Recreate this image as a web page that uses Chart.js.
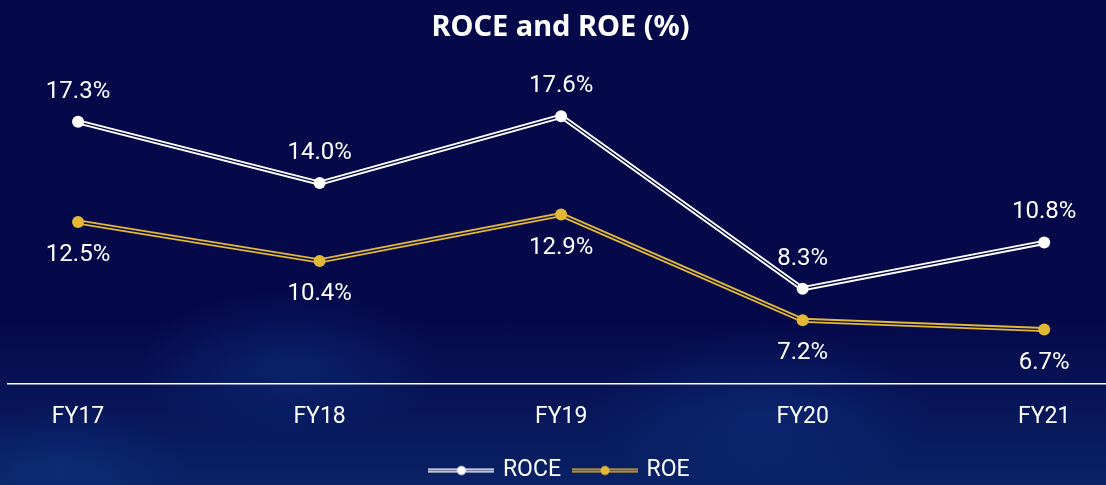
<!DOCTYPE html>
<html>
<head>
<meta charset="utf-8">
<script src="https://cdn.jsdelivr.net/npm/chart.js@4"></script>
<style>
  html, body { margin: 0; padding: 0; }
  body {
    width: 1106px; height: 485px; overflow: hidden;
    background:
      radial-gradient(ellipse 150px 75px at 290px 365px, rgba(20,70,160,0.32), rgba(20,70,160,0) 100%),
      radial-gradient(ellipse 170px 85px at 760px 415px, rgba(20,70,160,0.30), rgba(20,70,160,0) 100%),
      radial-gradient(ellipse 130px 60px at 60px 470px, rgba(20,70,160,0.30), rgba(20,70,160,0) 100%),
      linear-gradient(to bottom, #05094a 0%, #05094a 66%, #0a2266 100%);
  }
  #wrap { position: relative; width: 1106px; height: 485px; overflow: hidden; }
</style>
</head>
<body>
<div id="wrap"><canvas id="chart" width="1113" height="492"></canvas></div>
<script>
const years = ["FY17", "FY18", "FY19", "FY20", "FY21"];
const roce = [17.3, 14.0, 17.6, 8.3, 10.8];
const roe = [12.5, 10.4, 12.9, 7.2, 6.7];

const white = "#ffffff";
const gold = "#e3b834";
const navy = "#05094a";

const pts = arr => arr.map((v, i) => ({ x: i, y: v }));

// legend icon: double line with a dot
function legendIcon(color) {
  const c = document.createElement("canvas");
  c.width = 66; c.height = 12;
  const g = c.getContext("2d");
  g.strokeStyle = color; g.lineWidth = 4;
  g.beginPath(); g.moveTo(0, 6); g.lineTo(66, 6); g.stroke();
  g.strokeStyle = navy; g.lineWidth = 1.2;
  g.beginPath(); g.moveTo(0, 6); g.lineTo(66, 6); g.stroke();
  g.fillStyle = color;
  g.beginPath(); g.arc(33, 6, 4.5, 0, Math.PI * 2); g.fill();
  return c;
}

const valueLabels = {
  id: "valueLabels",
  afterDatasetsDraw(chart) {
    const ctx = chart.ctx;
    ctx.save();
    ctx.font = "24px Roboto";
    ctx.fillStyle = white;
    ctx.textAlign = "center";
    ctx.textBaseline = "middle";
    [[0, roce, -30], [1, roe, 33]].forEach(([idx, arr, off]) => {
      chart.getDatasetMeta(idx).data.forEach((p, i) => {
        ctx.fillText(arr[i].toFixed(1) + "%", p.x, p.y + off);
      });
    });
    ctx.restore();
  }
};

const lineSet = (data, color, width, axis) => ({
  data: pts(data), yAxisID: axis, borderColor: color, borderWidth: width,
  pointRadius: 0, pointHoverRadius: 0, fill: false, tension: 0
});
const dotSet = (label, data, color, axis) => ({
  label, data: pts(data), yAxisID: axis, showLine: false,
  pointRadius: 6, pointBackgroundColor: color, pointBorderWidth: 0, borderColor: color
});

new Chart(document.getElementById("chart"), {
  type: "line",
  data: {
    datasets: [
      dotSet("ROCE", roce, white, "y"),
      dotSet("ROE", roe, gold, "y1"),
      lineSet(roce, navy, 1.4, "y"),
      lineSet(roe, navy, 1.4, "y1"),
      lineSet(roce, white, 5, "y"),
      lineSet(roe, gold, 5, "y1")
    ]
  },
  options: {
    responsive: false,
    animation: false,
    layout: { padding: { left: 8, right: 0, top: 0, bottom: 0 } },
    plugins: {
      tooltip: { enabled: false },
      title: {
        display: true, text: "ROCE and ROE (%)", color: white,
        font: { family: "Noto Sans", size: 29, weight: "bold" },
        padding: { top: 10, bottom: 14 }
      },
      legend: {
        position: "bottom",
        labels: {
          color: white, usePointStyle: true, pointStyleWidth: 60, padding: 14,
          font: { family: "Roboto", size: 23 },
          generateLabels: chart => [
            { text: "ROCE", fontColor: white, pointStyle: legendIcon(white), datasetIndex: 0, lineWidth: 0, hidden: false },
            { text: "ROE", fontColor: white, pointStyle: legendIcon(gold), datasetIndex: 1, lineWidth: 0, hidden: false }
          ]
        }
      }
    },
    scales: {
      x: {
        type: "linear", min: -0.29, max: 4.26,
        grid: { display: false },
        border: { display: true, color: white, width: 1.5 },
        afterFit: scale => { scale.height += 2; },
        ticks: {
          stepSize: 1, includeBounds: false, color: white, padding: 12,
          font: { family: "Roboto", size: 23 },
          callback: v => years[v] ?? ""
        }
      },
      y: { display: false, min: 3.2, max: 20.7 },
      y1: { display: false, min: 3.8, max: 21.3 }
    }
  },
  plugins: [valueLabels]
});
</script>
</body>
</html>
